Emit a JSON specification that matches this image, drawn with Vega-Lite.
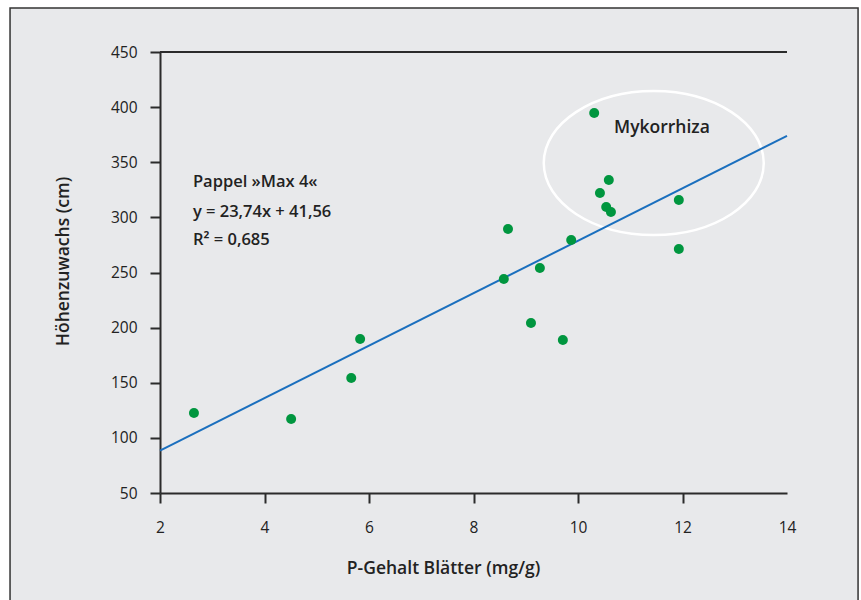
{
  "$schema": "https://vega.github.io/schema/vega-lite/v6.json",
  "width": 627,
  "height": 441,
  "autosize": {"type": "none"},
  "padding": {"left": 160, "top": 52, "right": 74, "bottom": 107},
  "background": "#e8e9eb",
  "config": {
    "view": {"stroke": null},
    "font": "Open Sans",
    "axis": {
      "grid": false,
      "domainColor": "#2b2b2b",
      "domainWidth": 2,
      "tickColor": "#2b2b2b",
      "tickWidth": 2,
      "tickSize": 10,
      "labelFont": "Open Sans",
      "labelFontSize": 15.5,
      "labelColor": "#222222",
      "labelFlush": false,
      "labelOverlap": false,
      "titleFont": "Open Sans",
      "titleFontSize": 17.5,
      "titleFontWeight": 600,
      "titleColor": "#222222"
    }
  },
  "datasets": {
    "points": [
      {"p": 2.65, "h": 122.6},
      {"p": 4.51, "h": 117.1},
      {"p": 5.66, "h": 154.3},
      {"p": 5.83, "h": 189.7},
      {"p": 8.58, "h": 244.1},
      {"p": 8.66, "h": 289.5},
      {"p": 9.10, "h": 204.2},
      {"p": 9.27, "h": 254.1},
      {"p": 9.71, "h": 188.8},
      {"p": 9.87, "h": 279.5},
      {"p": 10.31, "h": 394.7},
      {"p": 10.42, "h": 322.1},
      {"p": 10.59, "h": 333.9},
      {"p": 10.54, "h": 309.4},
      {"p": 10.63, "h": 304.9},
      {"p": 11.93, "h": 315.8},
      {"p": 11.93, "h": 271.3}
    ],
    "fit": [
      {"p": 2, "h": 88.5},
      {"p": 14, "h": 373.9}
    ],
    "notes": [
      {"p": 2.63, "h": 332.1, "label": "Pappel »Max 4«"},
      {"p": 2.63, "h": 304.9, "label": "y = 23,74x + 41,56"},
      {"p": 2.63, "h": 279.5, "label": "R² = 0,685"}
    ],
    "circle": [
      {"p": 11.45, "h": 349.3}
    ],
    "circleLabel": [
      {"p": 10.69, "h": 381.1, "label": "Mykorrhiza"}
    ]
  },
  "layer": [
    {
      "data": {"name": "fit"},
      "mark": {"type": "line", "opacity": 0},
      "encoding": {
        "x": {
          "field": "p", "type": "quantitative",
          "scale": {"domain": [2, 14], "nice": false, "zero": false},
          "axis": {
            "values": [2, 4, 6, 8, 10, 12, 14],
            "title": "P-Gehalt Blätter (mg/g)",
            "labelBaseline": "middle",
            "labelPadding": 24,
            "tickColor": {"condition": {"test": "datum.value == 14", "value": "transparent"}, "value": "#2b2b2b"},
            "titleX": 283,
            "titleY": 75,
            "titleAlign": "center",
            "titleBaseline": "middle"
          }
        },
        "y": {
          "field": "h", "type": "quantitative",
          "scale": {"domain": [50, 450], "nice": false, "zero": false},
          "axis": {
            "values": [50, 100, 150, 200, 250, 300, 350, 400, 450],
            "title": "Höhenzuwachs (cm)",
            "labelAlign": "right",
            "labelBaseline": "middle",
            "labelPadding": 13,
            "titleAngle": -90,
            "titleX": -97,
            "titleY": 209,
            "titleAlign": "center",
            "titleBaseline": "middle"
          }
        }
      }
    },
    {
      "data": {"values": [{}]},
      "mark": {"type": "rect", "fill": null, "stroke": "#ffffff", "strokeWidth": 24},
      "encoding": {
        "x": {"datum": -1.10, "type": "quantitative"},
        "x2": {"datum": 15.59},
        "y": {"datum": 500.8, "type": "quantitative"},
        "y2": {"datum": -70}
      }
    },
    {
      "data": {"values": [{}]},
      "mark": {"type": "rect", "fill": null, "stroke": "#333333", "strokeWidth": 1.5},
      "encoding": {
        "x": {"datum": -0.87, "type": "quantitative"},
        "x2": {"datum": 15.36},
        "y": {"datum": 489.9, "type": "quantitative"},
        "y2": {"datum": -70}
      }
    },
    {
      "data": {"name": "circle"},
      "mark": {
        "type": "point",
        "shape": "M1,0 C1,0.3615 0.5523,0.6545 0,0.6545 C-0.5523,0.6545 -1,0.3615 -1,0 C-1,-0.3615 -0.5523,-0.6545 0,-0.6545 C0.5523,-0.6545 1,-0.3615 1,0 Z",
        "filled": false,
        "stroke": "#ffffff",
        "strokeWidth": 2.5,
        "opacity": 1,
        "size": 48400
      },
      "encoding": {
        "x": {"field": "p", "type": "quantitative"},
        "y": {"field": "h", "type": "quantitative"}
      }
    },
    {
      "data": {"values": [{}]},
      "mark": {"type": "rule", "color": "#2b2b2b", "strokeWidth": 2},
      "encoding": {
        "x": {"datum": 2, "type": "quantitative"},
        "x2": {"datum": 14},
        "y": {"datum": 450, "type": "quantitative"}
      }
    },
    {
      "data": {"name": "fit"},
      "mark": {"type": "line", "color": "#1a6fbe", "strokeWidth": 2},
      "encoding": {
        "x": {"field": "p", "type": "quantitative"},
        "y": {"field": "h", "type": "quantitative"}
      }
    },
    {
      "data": {"name": "points"},
      "mark": {"type": "circle", "color": "#00963f", "opacity": 1, "size": 100},
      "encoding": {
        "x": {"field": "p", "type": "quantitative"},
        "y": {"field": "h", "type": "quantitative"}
      }
    },
    {
      "data": {"name": "notes"},
      "mark": {"type": "text", "align": "left", "baseline": "middle", "fontSize": 16.5, "fontWeight": 600, "color": "#222222", "font": "Open Sans"},
      "encoding": {
        "x": {"field": "p", "type": "quantitative"},
        "y": {"field": "h", "type": "quantitative"},
        "text": {"field": "label"}
      }
    },
    {
      "data": {"name": "circleLabel"},
      "mark": {"type": "text", "align": "left", "baseline": "middle", "fontSize": 17.5, "fontWeight": 600, "color": "#222222", "font": "Open Sans"},
      "encoding": {
        "x": {"field": "p", "type": "quantitative"},
        "y": {"field": "h", "type": "quantitative"},
        "text": {"field": "label"}
      }
    }
  ]
}
